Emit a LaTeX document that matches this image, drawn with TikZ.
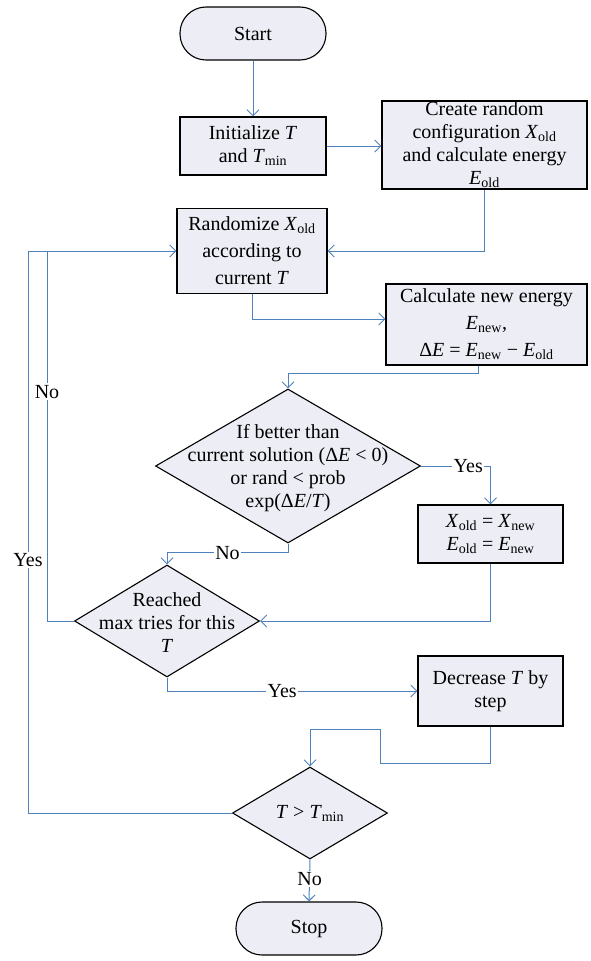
\documentclass[tikz,border=0pt]{standalone}
\usepackage{fontspec}
\setmainfont{Liberation Serif}
\usetikzlibrary{shapes.geometric, arrows.meta, calc}
\definecolor{boxfill}{HTML}{ECEDF5}
\definecolor{flowblue}{HTML}{4F81BD}
\newcommand\Vs[2]{\textit{#1}\textsubscript{#2}}
\begin{document}
\begin{tikzpicture}[x=1pt,y=-1pt,
  base/.style={draw=black, line width=1.1pt, fill=boxfill, align=center, inner sep=0pt, font=\fontsize{20}{23}\selectfont},
  term/.style={base, rectangle, rounded corners=26pt, minimum width=146pt, minimum height=53pt},
  proc/.style={base, rectangle},
  decision/.style={base, diamond, inner sep=0pt},
  txt/.style={align=center, inner sep=0pt, font=\fontsize{20}{23}\selectfont},
  arr/.style={draw=flowblue, line width=1pt, -{Straight Barb[length=6pt,width=12pt]}},
  ln/.style={draw=flowblue, line width=1pt},
  lbl/.style={fill=white, inner sep=1.5pt, font=\fontsize{20}{23}\selectfont, text=black}
]
\path[use as bounding box] (0,0) rectangle (590,961);

\node[term] (start) at (253,33.5) {Start};
\node[proc, minimum width=146pt, minimum height=58pt] (init) at (253,146) {Initialize \textit{T}\\and \Vs{T}{min}};
\node[proc, minimum width=205pt, minimum height=88pt] (create) at (484.5,145) {Create random\\configuration \Vs{X}{old}\\and calculate energy\\\Vs{E}{old}};
\node[proc, minimum width=150pt, minimum height=85pt, font=\fontsize{20}{27}\selectfont] (rand) at (252,251) {Randomize \Vs{X}{old}\\according to\\current \textit{T}};
\node[proc, minimum width=201pt, minimum height=81pt, font=\fontsize{20}{27}\selectfont] (calc) at (486.5,324.5) {Calculate new energy\\\Vs{E}{new},\\Δ\textit{E} = \Vs{E}{new} − \Vs{E}{old}};
\node[decision, minimum width=265pt, minimum height=154pt] (d1) at (288,466) {};
\node[txt] (d1t) at (288,468) {If better than\\current solution (Δ\textit{E} < 0)\\or rand < prob\\exp(Δ\textit{E}/\textit{T})};
\node[proc, minimum width=145pt, minimum height=58pt] (xold) at (490.5,534) {\Vs{X}{old} = \Vs{X}{new}\\\Vs{E}{old} = \Vs{E}{new}};
\node[decision, minimum width=185pt, minimum height=112pt] (d2) at (167,621) {};
\node[txt] (d2t) at (167,623) {Reached\\max tries for this\\\textit{T}};
\node[proc, minimum width=145pt, minimum height=70pt] (decr) at (490.5,691) {Decrease \textit{T} by\\step};
\node[decision, minimum width=155pt, minimum height=92pt] (d3) at (310,813) {};
\node[txt] (d3t) at (310,813) {\textit{T} > \Vs{T}{min}};
\node[term] (stop) at (309,928.5) {Stop};

\coordinate (ol) at (28,251);
\coordinate (il) at (47,251);

\draw[arr] (start.south) -- (init.north);
\draw[arr] (init.east) -- (init.east -| create.west);
\draw[arr] (create.south) |- (rand.east);
\draw[arr] (rand.south) |- ([yshift=5.5pt]calc.west);
\draw[arr] ([xshift=-8pt]calc.south) -- ++(0,8) -| (d1.north);
\draw[arr] (d1.east) -| node[pos=0.34, lbl]{Yes} (xold.north);
\draw[arr] (d1.south) -- ++(0,9) -| node[pos=0.25, lbl]{No} (d2.north);
\draw[arr] (xold.south) |- (d2.east);
\draw[ln] (d2.west) -- (d2.west -| il) -- node[pos=0.62, lbl]{No} (il);
\draw[arr] (d2.south) |- node[pos=0.73, lbl]{Yes} (decr.west);
\draw[arr] (decr.south) -- ++(0,37) -- ++(-110,0) -- ++(0,-34) -| (d3.north);
\draw[arr] (d3.west) -- (d3.west -| ol) -- node[pos=0.45, lbl]{Yes} (ol) -- (rand.west);
\draw[arr] (d3.south) -- node[pos=0.47, lbl]{No} (stop.north);
\end{tikzpicture}
\end{document}
